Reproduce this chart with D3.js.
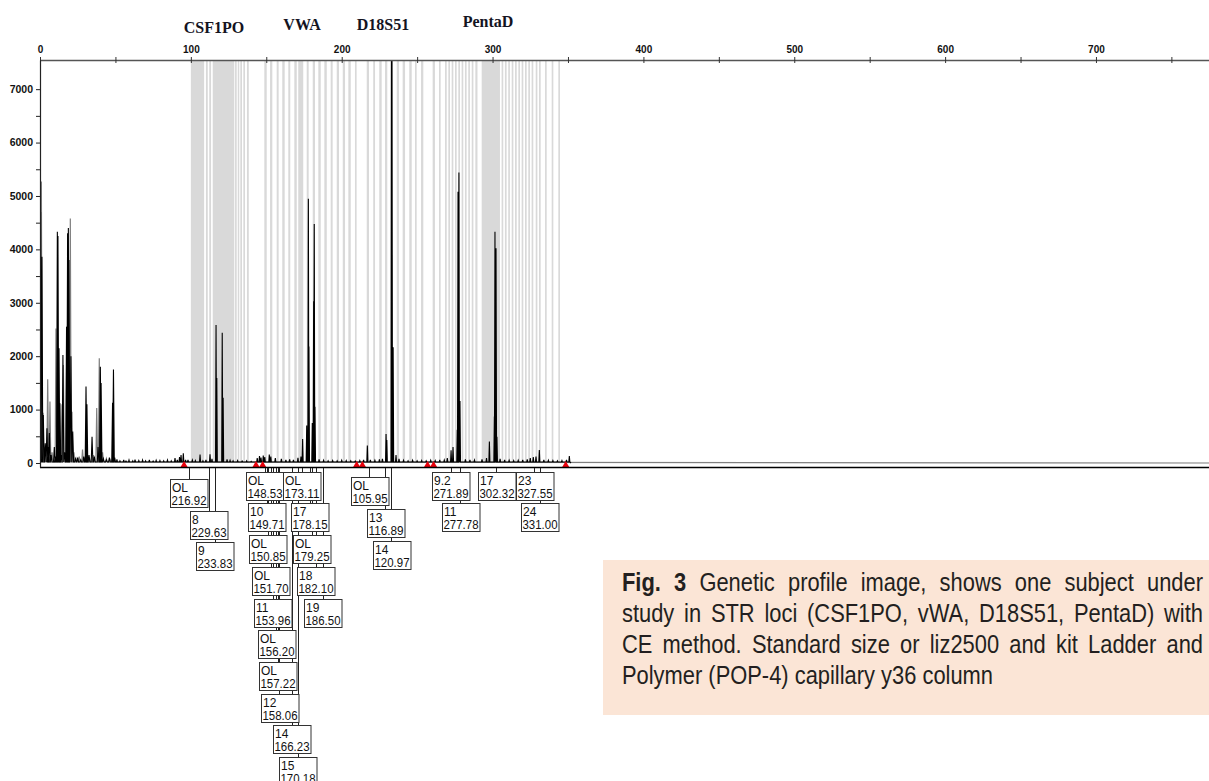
<!DOCTYPE html>
<html>
<head>
<meta charset="utf-8">
<script src="https://cdn.jsdelivr.net/npm/d3@7"></script>
<style>
  body { margin: 0; background: #fff; }
  svg { display: block; }
</style>
</head>
<body>
<div id="plot"></div>
<script>
// ---- data ----
const lociNames = ["CSF1PO", "VWA", "D18S51", "PentaD"];
const lociBp = [115.3, 173.7, 227.4, 297.0];   // where each locus title sits on the size axis

// allele bins of the ladder, [start, end] in bp
const bins = [
  [100.0, 108.8], [110.0, 111.2], [112.2, 113.4], [114.5, 128.8], [129.3, 130.4],
  [131.1, 132.1], [132.8, 133.9], [134.8, 135.9], [137.2, 138.4],
  [148.7, 150.3], [152.5, 154.0], [156.9, 158.2], [160.6, 162.2], [164.6, 165.9],
  [168.6, 170.2], [171.2, 174.5], [176.8, 178.1], [180.8, 182.3], [184.5, 186.1],
  [188.5, 190.1], [192.7, 194.0], [196.7, 198.2], [200.7, 202.2], [204.4, 206.0],
  [208.8, 209.9], [216.6, 218.1], [220.9, 222.1], [224.9, 226.5], [228.7, 230.2],
  [236.5, 238.0], [240.4, 242.0], [244.8, 246.4], [248.6, 249.7], [252.6, 254.1],
  [260.3, 261.8], [264.5, 265.6], [268.5, 269.6], [270.7, 271.8], [272.9, 274.0],
  [275.1, 276.2], [277.3, 278.4], [279.5, 280.6], [281.7, 282.8], [283.9, 285.0],
  [286.2, 287.3], [288.6, 290.0], [292.8, 304.9], [306.0, 307.1], [308.2, 309.3],
  [310.4, 311.5], [312.7, 313.8], [314.9, 316.0], [317.1, 318.2], [319.3, 320.4],
  [321.5, 322.6], [323.7, 324.8], [325.9, 327.0], [328.6, 329.7], [330.8, 331.9],
  [334.8, 335.9], [339.2, 340.3], [343.6, 344.7]
];

// black dye trace: [size bp, RFU]
const blackPeaks = [
  [0.0, 5020], [0.4, 4700], [1.3, 3860], [2.2, 900], [3.5, 370], [4.6, 650], [5.4, 300],
  [6.2, 560], [7.4, 150], [9.5, 300], [10.2, 120], [11.5, 4330], [11.9, 4250], [12.6, 2150],
  [13.2, 1120], [14.2, 150], [15.2, 2020], [16.3, 200], [17.6, 2550], [18.3, 4300],
  [18.8, 4400], [19.2, 3800], [20.5, 2000], [21.7, 590], [23.5, 80], [25, 100], [27, 60],
  [29, 120], [30.5, 1430], [31.1, 1100], [32.5, 150], [34.5, 490], [36, 120], [38.5, 300],
  [40.0, 1800], [40.5, 1500], [42, 80], [44, 60], [46, 100], [48.1, 1130], [48.7, 1750],
  [49.5, 100], [51, 70], [53, 40], [55.5, 60], [57, 35], [59, 55], [61.5, 40], [63, 65],
  [65.5, 45], [68, 55], [70, 40], [72.5, 60], [75, 35], [77, 50], [79.5, 45], [82, 40],
  [84.5, 55], [87, 40], [89.5, 90], [91, 60], [92.5, 110], [93.5, 150], [95.0, 180],
  [96.5, 60], [98.1, 60], [101, 55], [103, 45], [106.1, 160], [108, 40], [110, 60],
  [112.7, 165], [114, 80], [116.7, 2584], [117.2, 1590], [120.8, 2440], [121.4, 1223],
  [124, 70], [126, 50], [128, 40], [131, 45], [134, 35], [137, 40], [140, 30], [144, 90],
  [145.5, 130], [146.5, 100], [148, 140], [149, 110], [152, 160], [153, 120], [156, 90],
  [160, 80], [163, 60], [165.5, 70], [168, 60], [171, 95], [173, 120], [174.1, 450],
  [176.8, 700], [177.9, 4950], [178.3, 2180], [180.5, 750], [181.4, 3030], [181.8, 4475],
  [182.3, 1055], [185, 70], [188, 50], [191, 40], [194, 45], [197, 40], [200, 50],
  [203, 45], [206, 40], [209, 35], [212, 45], [214.5, 60], [217.0, 325], [219, 60],
  [222, 50], [225, 70], [227, 80], [229.4, 545], [229.9, 430], [233.0, 9000], [233.3, 9000],
  [234.1, 2165], [236, 150], [238, 80], [241, 50], [244, 40], [247, 50], [250, 40],
  [253, 45], [256, 40], [259, 50], [262, 45], [265, 60], [268, 55], [270, 90], [272.5, 240],
  [273.8, 300], [276.6, 620], [277.1, 5080], [277.7, 5440], [278.4, 1160], [282, 70],
  [285, 60], [288, 55], [293, 70], [296, 90], [297.9, 400], [301.2, 870], [301.6, 4330],
  [302.3, 4020], [302.9, 490], [305, 80], [308, 60], [311, 50], [314, 45], [317, 50],
  [320, 60], [323, 70], [325, 90], [327, 110], [328.8, 120], [331.0, 245], [334, 60],
  [337, 50], [340, 45], [343, 40], [346, 45], [349, 60], [350.9, 130]
];

// grey dye trace (size standard), only the primer region rises above baseline
const grayPeaks = [
  [0.9, 5270], [2.0, 940], [3.0, 300], [5.1, 1570], [6.6, 1150], [8.0, 200], [10.6, 2520],
  [12, 400], [14.6, 1100], [15.5, 1835], [17.8, 2550], [20.1, 4580], [21.2, 960],
  [22.5, 200], [24.5, 80], [26, 120], [28.2, 250], [30, 100], [33, 80], [35.5, 150],
  [37.6, 1030], [39.3, 1960], [40.0, 1500], [41.5, 200], [44, 80], [47, 60]
];

// red off-ladder markers on the baseline
const markerBp = [95.5, 143.2, 147.6, 209.9, 213.7, 256.9, 260.9, 348.5];

// allele calls
const callAllele = ["OL", "8", "9",
  "OL", "10", "OL", "OL", "11", "OL", "OL", "12", "14", "15",
  "OL", "17", "OL", "18", "19",
  "OL", "13", "14",
  "9.2", "11", "17", "23", "24"];
const callSize = ["216.92", "229.63", "233.83",
  "148.53", "149.71", "150.85", "151.70", "153.96", "156.20", "157.22", "158.06", "166.23", "170.18",
  "173.11", "178.15", "179.25", "182.10", "186.50",
  "105.95", "116.89", "120.97",
  "271.89", "277.78", "302.32", "327.55", "331.00"];
const callBp = [98.6, 111.9, 115.8,
  149.0, 150.5, 151.2, 152.8, 154.5, 156.7, 157.8, 158.7, 167.1, 171.1,
  173.7, 178.8, 180.3, 183.0, 187.4,
  218.4, 229.0, 233.0,
  272.5, 278.7, 302.6, 327.8, 331.3];
const callRow = [0, 1, 2, 0, 1, 2, 3, 4, 5, 6, 7, 8, 9, 0, 1, 2, 3, 4, 0, 1, 2, 0, 1, 0, 0, 1];
const callLocus = ["CSF1PO", "CSF1PO", "CSF1PO",
  "VWA", "VWA", "VWA", "VWA", "VWA", "VWA", "VWA", "VWA", "VWA", "VWA",
  "VWA", "VWA", "VWA", "VWA", "VWA",
  "D18S51", "D18S51", "D18S51",
  "PentaD", "PentaD", "PentaD", "PentaD", "PentaD"];

const xTicks = d3.range(0, 776, 50);
const yTicks = d3.range(0, 7001, 500);

const captionLines = [
  "Fig. 3 Genetic profile image, shows one subject under",
  "study in STR loci (CSF1PO, vWA, D18S51, PentaD) with",
  "CE method. Standard size or liz2500 and kit Ladder and",
  "Polymer (POP-4) capillary y36 column"
];

// ---- layout ----
const width = 1209, height = 781;
const svg = d3.select("#plot").append("svg")
    .attr("width", width)
    .attr("height", height);

const x = d3.scaleLinear().domain([0, 775]).range([40, 1209.1]);
const y = d3.scaleLinear().domain([-75, 7546]).range([467, 60]);
const tickFont = "'Liberation Sans', Arial, sans-serif";

svg.append("clipPath").attr("id", "plotClip")
  .append("rect")
    .attr("x", 40).attr("y", 60)
    .attr("width", 1170).attr("height", 408);

const plot = svg.append("g").attr("clip-path", "url(#plotClip)");

// bins (light grey)
plot.selectAll("rect.bin")
  .data(bins)
  .enter()
  .append("rect")
    .attr("class", "bin")
    .attr("x", d => x(d[0]))
    .attr("y", 60)
    .attr("width", d => Math.max(1, x(d[1]) - x(d[0])))
    .attr("height", y(0) - 60)
    .attr("fill", "#d9d9d9");

// peaks drawn as narrow spikes through the listed maxima;
// primer-dimer peaks (below 50 bp) are broader
function spikes(peaks, from, to) {
    const pts = [[from, 0]];
    peaks.slice().sort((a, b) => a[0] - b[0]).forEach(([bp, h]) => {
        const w = bp < 50 ? 0.55 : 0.35;
        pts.push([bp - w, 20], [bp, h], [bp + w, 20]);
    });
    pts.push([to, 0]);
    return pts;
}
const line = d3.line().x(d => x(d[0])).y(d => y(d[1]));

plot.append("path")
    .attr("d", line(spikes(grayPeaks, 0, 775)))
    .attr("fill", "none")
    .attr("stroke", "#7f7f7f")
    .attr("stroke-width", 1.2);

plot.append("path")
    .attr("d", line(spikes(blackPeaks, 0, 352)))
    .attr("fill", "none")
    .attr("stroke", "#000")
    .attr("stroke-width", 1.1);

// red markers
svg.selectAll("path.marker")
  .data(markerBp)
  .enter()
  .append("path")
    .attr("class", "marker")
    .attr("d", d => `M${x(d) - 3.5},467 L${x(d) + 3.5},467 L${x(d)},461 Z`)
    .attr("fill", "#e8000b");

// bottom axis line
svg.append("line")
    .attr("x1", 40).attr("x2", 1209)
    .attr("y1", 467.5).attr("y2", 467.5)
    .attr("stroke", "#000").attr("stroke-width", 1.5);

// top size axis
const xAxis = svg.append("g")
    .attr("transform", "translate(0,60)")
    .call(d3.axisTop(x).tickValues(xTicks).tickSize(3).tickSizeOuter(0)
        .tickFormat(d => d % 100 === 0 ? d : ""));
xAxis.select(".domain").attr("stroke", "#555").attr("stroke-width", 1.6);
xAxis.selectAll(".tick line").attr("y1", 3).attr("y2", -3).attr("stroke", "#333");
xAxis.selectAll(".tick text")
    .attr("y", -7)
    .attr("font-family", tickFont)
    .attr("font-weight", "bold")
    .attr("font-size", 10)
    .attr("fill", "#111");

// left RFU axis
const yAxis = svg.append("g")
    .attr("transform", "translate(40,0)")
    .call(d3.axisLeft(y).tickValues(yTicks).tickSize(4).tickSizeOuter(0)
        .tickFormat(d => d % 1000 === 0 ? d : ""));
yAxis.select(".domain").attr("stroke", "#222").attr("stroke-width", 1.2);
yAxis.selectAll(".tick line").attr("x2", 1).attr("x1", -4).attr("stroke", "#222");
yAxis.selectAll(".tick text")
    .attr("x", -7)
    .attr("font-family", tickFont)
    .attr("font-weight", "bold")
    .attr("font-size", 10.5)
    .attr("fill", "#111");

// locus titles
const titleBase = [32.5, 30, 30, 27];
svg.selectAll("text.locus")
  .data(lociNames)
  .enter()
  .append("text")
    .attr("class", "locus")
    .attr("x", (d, i) => x(lociBp[i]))
    .attr("y", (d, i) => titleBase[i])
    .attr("text-anchor", "middle")
    .attr("font-family", "'Liberation Serif', 'Times New Roman', serif")
    .attr("font-weight", "bold")
    .attr("font-size", 16)
    .attr("fill", "#14141f")
    .text(d => d);

// allele call boxes
const stackTop = { CSF1PO: 479, VWA: 471.7, D18S51: 477.3, PentaD: 471.5 };
const boxW = 37.5, boxH = 28, rowStep = 31.7;
const calls = callAllele.map((a, i) => ({
    allele: a, size: callSize[i], bp: callBp[i], row: callRow[i], locus: callLocus[i]
}));
calls.forEach(d => {
    d.cx = x(d.bp);
    d.x0 = Math.round(d.cx - boxW / 2) + 0.5;
    d.y0 = Math.round(stackTop[d.locus] + d.row * rowStep) + 0.5;
});

const callG = svg.append("g");
callG.selectAll("line.conn")
  .data(calls)
  .enter()
  .append("line")
    .attr("x1", d => Math.round(d.cx) + 0.5)
    .attr("x2", d => Math.round(d.cx) + 0.5)
    .attr("y1", 468)
    .attr("y2", d => d.y0)
    .attr("stroke", "#222")
    .attr("stroke-width", 1);

const box = callG.selectAll("g.call")
  .data(calls)
  .enter()
  .append("g")
    .attr("class", "call");
box.append("rect")
    .attr("x", d => d.x0)
    .attr("y", d => d.y0)
    .attr("width", boxW)
    .attr("height", boxH)
    .attr("fill", "#fff")
    .attr("stroke", "#333");
box.append("text")
    .attr("x", d => d.x0 + 1.5)
    .attr("y", d => d.y0 + 12)
    .attr("font-family", tickFont)
    .attr("font-size", 12)
    .attr("fill", "#111")
    .text(d => d.allele);
box.append("text")
    .attr("x", d => d.x0 + 1)
    .attr("y", d => d.y0 + 25)
    .attr("font-family", tickFont)
    .attr("font-size", 12)
    .attr("fill", "#111")
    .attr("textLength", 35)
    .attr("lengthAdjust", "spacingAndGlyphs")
    .text(d => d.size);

// caption panel
const capG = svg.append("g");
capG.append("rect")
    .attr("x", 603).attr("y", 560)
    .attr("width", 606).attr("height", 155)
    .attr("fill", "#fbe5d6");

const capFont = "'Liberation Sans Narrow', 'Arial Narrow', 'Liberation Sans', sans-serif";
const capSize = 25;
const capLeft = 622, capWidth = 581;
const capBase = [591, 622, 653, 684];

function measure(str, bold) {
    const t = capG.append("text")
        .attr("font-family", capFont)
        .attr("font-size", capSize)
        .attr("font-weight", bold ? "bold" : "normal")
        .text(str);
    const w = t.node().getComputedTextLength();
    t.remove();
    return w;
}
const spaceW = measure("a a") - measure("aa");
const sx = 371 / measure(captionLines[3]);   // squeeze to the narrow face of the original
const capInner = capG.append("g").attr("transform", `translate(${capLeft},0) scale(${sx},1)`);

captionLines.forEach((ln, li) => {
    const words = ln.split(" ");
    const isBold = (i) => li === 0 && i < 2;
    const ws = words.map((w, i) => measure(w, isBold(i)));
    const gap = li < captionLines.length - 1
        ? (capWidth / sx - d3.sum(ws)) / (words.length - 1)
        : spaceW;
    let cx = 0;
    words.forEach((w, i) => {
        capInner.append("text")
            .attr("x", cx)
            .attr("y", capBase[li])
            .attr("font-family", capFont)
            .attr("font-size", capSize)
            .attr("font-weight", isBold(i) ? "bold" : "normal")
            .attr("fill", "#231f20")
            .text(w);
        cx += ws[i] + gap;
    });
});
</script>
</body>
</html>
